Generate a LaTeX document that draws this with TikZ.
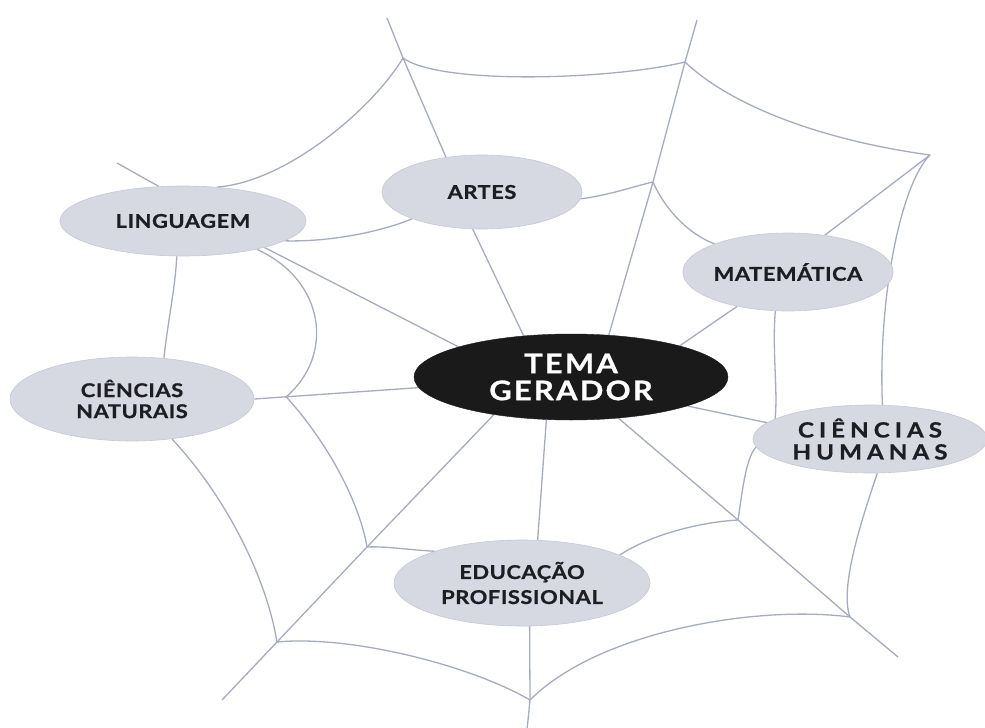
\documentclass[tikz,border=0pt]{standalone}
\usepackage{fontspec}
\setmainfont{Lato}[FakeStretch=1.15]
\usetikzlibrary{shapes.geometric,calc,backgrounds}
\definecolor{web}{RGB}{166,171,192}
\definecolor{bub}{RGB}{214,216,226}
\definecolor{bubedge}{RGB}{198,201,213}
\definecolor{core}{RGB}{26,26,26}
\definecolor{ink}{RGB}{30,30,34}
\begin{document}
\begin{tikzpicture}[x=1pt,y=-1pt,
  bubble/.style={ellipse, fill=bub, draw=bubedge, line width=0.6pt, inner sep=0pt,
    align=center, text=ink, font=\bfseries\fontsize{19}{24}\selectfont\addfontfeature{LetterSpace=3,FakeBold=0.8}},
  coreb/.style={ellipse, fill=core, draw=core, inner sep=0pt, align=center,
    text=white, font=\bfseries\fontsize{27}{27}\selectfont\addfontfeature{LetterSpace=8,FakeBold=0.8}},
  strand/.style={draw=web, line width=1.3pt, line join=round}]
\useasboundingbox (0,0) rectangle (985,728);

% nodes
\node[bubble, minimum width=246pt, minimum height=70pt] (ling) at (183,221) {LINGUAGEM};
\node[bubble, minimum width=200pt, minimum height=74pt] (artes) at (482,192) {ARTES};
\node[bubble, minimum width=198pt, minimum height=78pt] (mat) at (788,272) {MATEMÁTICA};
\node[coreb, minimum width=314pt, minimum height=86pt] (tema) at (571,377) {TEMA\\GERADOR};
\node[bubble, minimum width=244pt, minimum height=84pt, font=\bfseries\fontsize{19}{21}\selectfont\addfontfeature{LetterSpace=3,FakeBold=0.8}] (cn) at (132,399) {CIÊNCIAS\\NATURAIS};
\node[bubble, minimum width=234pt, minimum height=68pt, font=\bfseries\fontsize{21}{22}\selectfont\addfontfeature{LetterSpace=24,FakeBold=0.8}] (ch) at (870,439) {CIÊNCIAS\\HUMANAS};
\node[bubble, minimum width=256pt, minimum height=86pt, font=\bfseries\fontsize{19}{25}\selectfont\addfontfeature{LetterSpace=3,FakeBold=0.8}] (edu) at (522,583) {EDUCAÇÃO\\PROFISSIONAL};

% web junctions
\coordinate (a1) at (403,58); \coordinate (a2) at (387,18);
\coordinate (l1) at (117,163);
\coordinate (m0) at (653,182); \coordinate (m1) at (685,62); \coordinate (m2) at (697,20);
\coordinate (t1) at (930,155);
\coordinate (d1) at (738,520); \coordinate (d2) at (850,617); \coordinate (d3) at (898,657);
\coordinate (e1) at (530,700); \coordinate (e2) at (527,730);
\coordinate (g1) at (367,547); \coordinate (g2) at (277,642); \coordinate (g3) at (222,700);
\coordinate (c1) at ($(tema.184.9)!0.806!(cn.0)$);

\begin{pgfonlayer}{background}
\fill[white] (0,0) rectangle (985,728);
% radial threads
\draw[strand] (tema.139) -- (artes.256.7);
\draw[strand] (artes.136.5) -- (a1) -- (a2);
\draw[strand] (tema.165.5) -- (ling.342.8);
\draw[strand] (ling.125.8) -- (l1);
\draw[strand] (tema.184.9) -- (cn.0);
\draw[strand] (tema.206) -- (g1) -- (g2) -- (g3);
\draw[strand] (tema.240) -- (edu.70.6);
\draw[strand] (edu.280.6) -- (e1) -- (e2);
\draw[strand] (tema.319) -- (d1) -- (d2) -- (d3);
\draw[strand] (tema.346) -- (ch.171);
\draw[strand] (tema.16.6) -- (mat.214.6);
\draw[strand] (mat.45) -- (t1);
\draw[strand] (tema.48.9) -- (m0) -- (m1) -- (m2);
% outer ring
\draw[strand] (ling.45) .. controls (287,182) and (373,108) .. (a1);
\draw[strand] (a1) .. controls (440,85) and (610,80) .. (m1);
\draw[strand] (m1) .. controls (730,105) and (820,140) .. (t1);
\draw[strand] (t1) .. controls (900,185) and (878,300) .. (ch.70.6);
\draw[strand] (ch.282.5) .. controls (858,530) and (840,590) .. (d2);
\draw[strand] (d2) .. controls (760,605) and (600,630) .. (e1);
\draw[strand] (e1) .. controls (470,665) and (350,635) .. (g2);
\draw[strand] (g2) .. controls (265,570) and (220,490) .. (cn.315);
\draw[strand] (cn.52) .. controls (168,320) and (175,290) .. (ling.260.5);
% inner ring
\draw[strand] (artes.356.6) .. controls (610,195) and (635,186) .. (m0);
\draw[strand] (m0) .. controls (665,210) and (690,235) .. (mat.159.8);
\draw[strand] (mat.252) .. controls (772,350) and (778,390) .. (ch.168);
\draw[strand] (ch.184) .. controls (745,460) and (742,495) .. (d1);
\draw[strand] (d1) .. controls (700,522) and (650,535) .. (edu.16.7);
\draw[strand] (edu.160.9) .. controls (410,550) and (385,546) .. (g1);
\draw[strand] (g1) .. controls (360,505) and (330,445) .. (c1);
\draw[strand] (c1) .. controls (335,355) and (325,280) .. (ling.339.2);
\draw[strand] (ling.349.9) .. controls (330,242) and (380,232) .. (artes.201.8);
\end{pgfonlayer}
\end{tikzpicture}
\end{document}
